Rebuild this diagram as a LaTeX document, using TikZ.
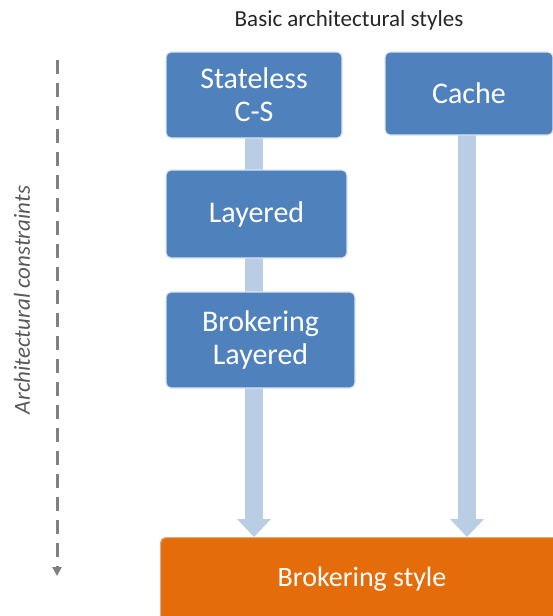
\documentclass[tikz,border=0pt]{standalone}
\usepackage{fontspec}
\setmainfont{Carlito}
\usetikzlibrary{arrows.meta}
\definecolor{boxblue}{HTML}{4F81BD}
\definecolor{boxedge}{HTML}{DCE6F2}
\definecolor{linkblue}{HTML}{B9CDE5}
\definecolor{orng}{HTML}{E46C0A}
\definecolor{dashgray}{HTML}{808080}
\definecolor{sidegray}{HTML}{595959}
\definecolor{titlegray}{HTML}{262626}
\tikzset{
  stylebox/.style={draw=boxedge, line width=1.2pt, fill=boxblue, rounded corners=5pt, text=white, font=\fontsize{30}{33}\selectfont, align=center, inner sep=0pt},
  link/.style={draw=none, fill=linkblue},
}
\begin{document}
\begin{tikzpicture}[x=1pt,y=-1pt]
\useasboundingbox (0,0) rectangle (553,616);
% title
\node[text=titlegray, font=\fontsize{23}{26}\selectfont] (title) at (349,20) {Basic architectural styles};
% connectors (drawn first)
\fill[link] (245,138) rectangle (263,170);
\fill[link] (245,258) rectangle (263,292);
\fill[link] (245,388) rectangle (263,519);
\fill[link] (237,519) -- (271,519) -- (254,537) -- cycle;
\fill[link] (458,135) rectangle (476,519);
\fill[link] (450,519) -- (484,519) -- (467,537) -- cycle;
% boxes
\node[stylebox, minimum width=176pt, minimum height=86pt] (sc) at (254,95) {Stateless\\C-S};
\node[stylebox, minimum width=168pt, minimum height=83pt] (cache) at (469,93.5) {Cache};
\node[stylebox, minimum width=181pt, minimum height=88pt] (lay) at (256.5,214) {Layered};
\node[stylebox, minimum width=189pt, minimum height=96pt] (bl) at (260.5,340) {Brokering\\Layered};
\node[draw=boxedge!50!orng, line width=1.2pt, fill=orng, rounded corners=5pt, minimum width=400pt, minimum height=90pt, anchor=north west, inner sep=0pt] (bs) at (160,537) {};
\node[text=white, font=\fontsize{28}{31}\selectfont] (bstext) at (362,579) {Brokering style};
% side arrow
\coordinate (ds) at (57,60);
\coordinate (de) at (57,576);
\draw[dashgray, line width=3pt, dash pattern=on 14pt off 9pt, -{Triangle[length=9pt,width=9pt]}] (ds) -- (de);
\node[rotate=90, font=\itshape\fontsize{23}{26}\selectfont, text=sidegray] (ac) at (22,300) {Architectural constraints};
\end{tikzpicture}
\end{document}
